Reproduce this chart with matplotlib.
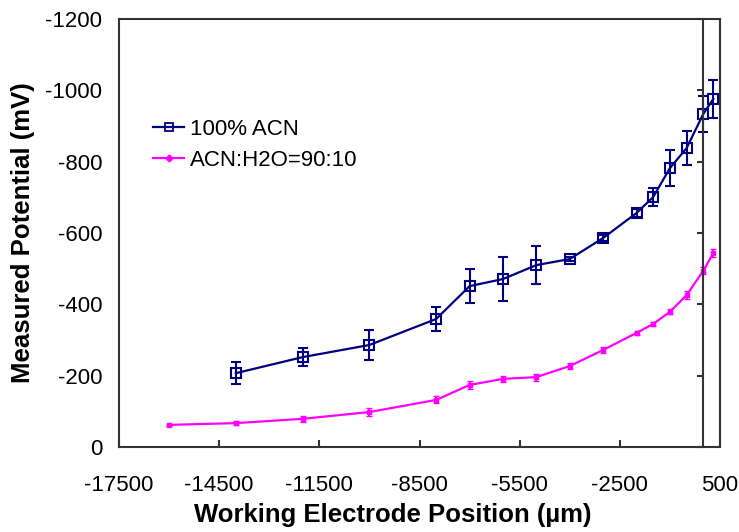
import matplotlib
matplotlib.use("Agg")
import matplotlib.pyplot as plt
from matplotlib.lines import Line2D

plt.rcParams['font.family'] = ['Liberation Sans', 'DejaVu Sans']
plt.rcParams['axes.unicode_minus'] = False

# ---- data ----
x_acn = [-14000, -12000, -10000, -8000, -7000, -6000, -5000, -4000,
         -3000, -2000, -1500, -1000, -500, 0, 300]
y_acn = [-207, -252, -286, -359, -451, -471, -510, -527,
         -586, -656, -701, -782, -838, -934, -976]
err_acn = [31, 26, 42, 34, 47, 62, 53, 5, 8, 10, 25, 50, 48, 51, 54]

x_h2o = [-16000, -14000, -12000, -10000, -8000, -7000, -6000, -5000, -4000,
         -3000, -2000, -1500, -1000, -500, 0, 300]
y_h2o = [-62, -67, -79, -98, -132, -174, -191, -196, -227,
         -272, -320, -345, -379, -426, -494, -544]
err_h2o = [3, 5, 8, 10, 10, 10, 9, 10, 8, 8, 5, 6, 7, 10, 10, 12]

x_ticks = [-17500, -14500, -11500, -8500, -5500, -2500, 500]
y_ticks = [0, -200, -400, -600, -800, -1000, -1200]

label_acn = "100% ACN"
label_h2o = "ACN:H2O=90:10"

# ---- figure ----
W, H = 739, 532
fig = plt.figure(figsize=(W / 100, H / 100), dpi=100)
pos = [119 / W, 1 - 447 / H, 601 / W, 428 / H]
ax = fig.add_axes(pos)

navy = '#000080'
pink = '#FF00FF'
axcol = '#333333'

ax.errorbar(x_acn, y_acn, yerr=err_acn, color=navy, lw=1.6, marker='s',
            ms=7, mfc='none', mec=navy, mew=1.5, ecolor=navy, elinewidth=1.5,
            capsize=3.5, capthick=1.5, zorder=3)
ax.errorbar(x_h2o, y_h2o, yerr=err_h2o, color=pink, lw=1.6, marker='s',
            ms=3.5, mfc=pink, mec=pink, mew=1, ecolor=pink, elinewidth=1.5,
            capsize=2.5, capthick=1.5, zorder=3)

ax.set_xlim(-17500, 500)
ax.set_ylim(0, -1200)
ax.set_xticks(x_ticks)
ax.set_xticklabels([str(v) for v in x_ticks])
ax.set_yticks(y_ticks)
ax.set_yticklabels([str(v) for v in y_ticks])

for s in ax.spines.values():
    s.set_color(axcol)
    s.set_linewidth(1.5)

ax.tick_params(axis='x', direction='in', length=5, width=1.5, color=axcol,
               labelsize=16, pad=20, top=False)
ax.tick_params(axis='y', length=0, labelsize=16, pad=12, right=False)

ax.set_xlabel("Working Electrode Position (\u00b5m)", fontsize=18.5, fontweight='bold')
ax.set_ylabel("Measured Potential (mV)", fontsize=18.5, fontweight='bold')
ax.xaxis.set_label_coords((393 - 119) / 601, (447 - 515) / 428)
ax.xaxis.label.set_va('center')
ax.yaxis.set_label_coords((23 - 119) / 601, 0.5)
ax.yaxis.label.set_va('center')

# y axis crossing at x = 0 with outward ticks
ax2 = fig.add_axes(pos, sharex=ax, sharey=ax)
ax2.patch.set_visible(False)
for k in ('top', 'right', 'bottom'):
    ax2.spines[k].set_visible(False)
ax2.spines['left'].set_position(('data', 0))
ax2.spines['left'].set_color(axcol)
ax2.spines['left'].set_linewidth(1.5)
ax2.tick_params(axis='y', direction='out', length=4, width=1.5, color=axcol,
                labelleft=False)
ax2.tick_params(axis='x', bottom=False, labelbottom=False)

handles = [
    Line2D([], [], color=navy, lw=1.6, marker='s', ms=6, mfc='none', mec=navy, mew=1.3),
    Line2D([], [], color=pink, lw=1.6, marker='D', ms=3.5, mfc=pink, mec=pink),
]
leg = ax.legend(handles, [label_acn, label_h2o], loc='upper left', frameon=False,
                fontsize=16, bbox_to_anchor=(153 / W, 1 - 119 / H),
                bbox_transform=fig.transFigure, borderpad=0, borderaxespad=0,
                handlelength=1.4, handletextpad=0.25, labelspacing=0.45)

fig.savefig("out.png", dpi=100)
